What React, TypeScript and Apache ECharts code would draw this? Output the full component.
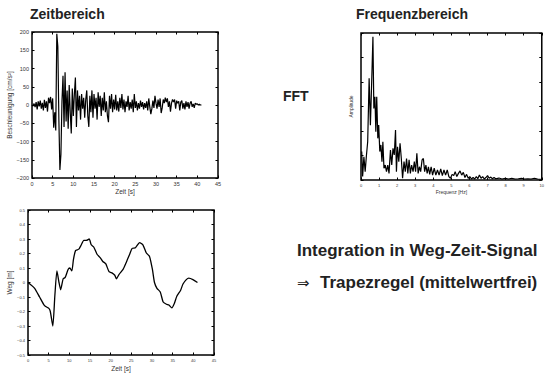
import React, { useEffect, useRef } from "react";
import * as echarts from "echarts";

// --- Zeitbereich: acceleration [cm/s^2], sampled every 0.25 s from 0 to 41 s
const accStep = 0.25;
const accValues = [
  0, -3, 4, -6, 8, -12, 10, -4, 12, -10, 6, -15, 14, -8, 10, -18, 20, 5, 22, -12,
  18, -62, -20, -70, 195, 160, -40, -178, -135, 10, 80, -60, 90, -45, 40, -65, 55, -20, -78, 45,
  -30, 30, 75, -60, 40, -15, 25, -40, 30, -10, 20, -35, 15, 40, -30, -60, 25, -20, 40, -35,
  30, -10, 20, -40, 35, -5, 25, -30, 20, -15, 35, -20, 10, -30, -47, 25, -10, 30, -20, 15,
  -12, 28, -15, 10, -18, 20, -8, 30, -12, 15, -20, 10, -5, 25, -15, 8, -10, 15, -20, 30,
  -8, 10, -15, 5, -10, 12, -5, 8, -12, 5, -8, 10, -15, 18, -5, -25, -10, 12, -8, 25,
  5, -10, 15, -5, 18, -22, -8, 15, 5, 20, 8, 18, -5, 10, -18, 5, 15, 8, 15, -10,
  12, 5, 10, -15, 8, 12, -10, 5, -12, 10, -5, 8, -10, 5, 10, -5, 3, -8, 5, 2,
  3, 0, 2, 0, 0,
];

// --- Frequenzbereich: FFT amplitude (arbitrary units) vs. frequency [Hz]
const fftFreq = [
  0.04, 0.09, 0.16, 0.23, 0.3, 0.37, 0.45, 0.52, 0.57, 0.62, 0.66, 0.71, 0.77, 0.82, 0.87, 0.93, 0.98,
  1.04, 1.1, 1.16, 1.21, 1.27, 1.34, 1.41, 1.48, 1.55, 1.63, 1.7, 1.77, 1.84, 1.91, 1.96,
  2.02, 2.09, 2.16, 2.23, 2.3, 2.38, 2.45, 2.52, 2.59, 2.66, 2.73, 2.8, 2.88, 2.95,
  3.02, 3.09, 3.16, 3.23, 3.3, 3.38, 3.45, 3.52, 3.59, 3.66, 3.73, 3.8, 3.88, 3.96,
  4.05, 4.14, 4.23, 4.32, 4.41, 4.5, 4.59, 4.68, 4.77, 4.86, 4.95,
  5.04, 5.13, 5.21, 5.3, 5.39, 5.48, 5.57, 5.66, 5.75, 5.84, 5.93,
  6.02, 6.11, 6.2, 6.29, 6.38, 6.46, 6.55, 6.64, 6.73, 6.82, 6.91,
  7.0, 7.09, 7.18, 7.27, 7.36, 7.45, 7.63, 7.8, 7.98, 8.16, 8.34, 8.52, 8.7, 8.88,
  9.05, 9.23, 9.41, 9.59, 9.77, 9.95,
];
const fftAmp = [
  1.16, 0.14, 0.95, 0.34, 1.0, 1.56, 4.15, 2.24, 3.47, 4.76, 5.85, 2.92, 3.4, 1.97, 3.4, 1.7, 2.24,
  1.16, 1.43, 0.75, 1.56, 0.48, 0.61, 0.34, 0.61, 0.27, 1.22, 0.61, 1.29, 1.02, 2.04, 0.34,
  1.36, 0.75, 1.5, 0.88, 0.07, 0.75, 0.34, 0.88, 0.27, 0.82, 0.27, 0.61, 0.34, 0.75,
  0.34, 1.09, 0.27, 0.54, 0.34, 0.82, 0.88, 0.34, 0.61, 0.27, 0.54, 0.23, 0.54, 0.2,
  0.48, 0.2, 0.41, 0.2, 0.45, 0.18, 0.41, 0.2, 0.41, 0.14, 0.07,
  0.23, 0.18, 0.34, 0.14, 0.27, 0.37, 0.2, 0.31, 0.1, 0.23, 0.07,
  0.14, 0.04, 0.1, 0.04, 0.14, 0.05, 0.2, 0.07, 0.14, 0.04, 0.1,
  0.18, 0.07, 0.12, 0.05, 0.1, 0.05, 0.08, 0.04, 0.07, 0.04, 0.07, 0.04, 0.05, 0.07,
  0.04, 0.05, 0.04, 0.07, 0.04, 0.03,
];

// --- Weg-Zeit-Signal: displacement [m] vs. time [s]
const wegTime = [
  0, 1.6, 2.8, 4.0, 5.1, 5.4, 6.0, 6.5, 7.0, 7.5, 7.9, 8.5, 9.0, 9.7, 10.1, 10.6, 11.0, 11.5,
  12.3, 12.9, 13.5, 14.1, 14.8, 15.3, 15.9, 16.7, 17.5, 18.1, 18.8, 19.6, 20.4, 21.0, 21.4,
  22.0, 23.0, 23.8, 24.6, 25.2, 26.0, 27.0, 27.8, 28.6, 29.4, 30.1, 30.6, 31.2, 32.0, 32.7,
  33.5, 34.1, 34.8, 35.4, 36.0, 36.9, 37.5, 38.3, 38.9, 39.9, 41.0,
];
const wegValues = [
  0, -0.04, -0.1, -0.16, -0.18, -0.2, -0.3, -0.09, 0.08, 0, -0.05, 0.025, 0.035, 0.09, 0.1, 0.08, 0.16, 0.22,
  0.23, 0.26, 0.29, 0.29, 0.3, 0.26, 0.245, 0.195, 0.17, 0.145, 0.13, 0.075, 0.065, 0.05, 0.025,
  0.055, 0.09, 0.14, 0.195, 0.235, 0.24, 0.275, 0.26, 0.205, 0.18, 0.09, 0, -0.04, -0.065, -0.135,
  -0.15, -0.155, -0.175, -0.145, -0.095, -0.055, -0.01, 0.02, 0.03, 0.02, 0,
];

const FONT = "'Liberation Sans', Arial, Helvetica, sans-serif";
const minus = (s: string) => s.replace("-", "\u2212");

function boxAxes(gridIndex: number, min: number, max: number, interval: number, isX: boolean, label: any, name?: string, nameGap?: number, nameSize?: number) {
  const tick = { show: true, inside: true, length: 2.5, lineStyle: { color: "#000", width: 1 } };
  const main: any = {
    type: "value",
    gridIndex,
    min,
    max,
    interval,
    position: isX ? "bottom" : "left",
    axisLine: { show: false, onZero: false },
    axisTick: tick,
    splitLine: { show: false },
    axisLabel: label,
    name: name || "",
    nameLocation: "middle",
    nameGap: nameGap || 10,
    nameTextStyle: { fontFamily: FONT, fontSize: nameSize || 6, color: "#333" },
  };
  const opp: any = {
    type: "value",
    gridIndex,
    min,
    max,
    interval,
    position: isX ? "top" : "right",
    axisLine: { show: false, onZero: false },
    axisTick: tick,
    splitLine: { show: false },
    axisLabel: { show: false },
  };
  return [main, opp];
}

export default function App() {
  const ref = useRef<HTMLDivElement>(null);
  useEffect(() => {
    if (!ref.current) return;
    const chart = echarts.init(ref.current, undefined, { renderer: "svg" });

    const lbl1 = { show: true, fontFamily: FONT, fontSize: 5.5, color: "#333", margin: 3, formatter: (v: number) => minus(String(v)) };
    const lblFft = { show: true, fontFamily: FONT, fontSize: 4, color: "#333", margin: 3, alignMaxLabel: "center", formatter: (v: number) => String(v) };
    const lbl3x = { show: true, fontFamily: FONT, fontSize: 4, color: "#333", margin: 3, formatter: (v: number) => String(v) };
    const lbl3y = {
      show: true, fontFamily: FONT, fontSize: 4, color: "#333", margin: 3,
      formatter: (v: number) => (Math.abs(v) < 1e-9 ? "0" : minus(v.toFixed(1))),
    };

    const [x1, x1t] = boxAxes(0, 0, 45, 5, true, lbl1, "Zeit [s]", 10, 6.5);
    const [y1, y1r] = boxAxes(0, -200, 200, 50, false, lbl1, "Beschleunigung [cm/s\u00B2]", 17, 6.5);
    const [x2, x2t] = boxAxes(1, 0, 10, 1, true, lblFft, "Frequenz [Hz]", 9, 5);
    const [y2, y2r] = boxAxes(1, 0, 6, 1, false, { show: false }, "Amplitude", 8, 5);
    const [x3, x3t] = boxAxes(2, 0, 45, 5, true, lbl3x, "Zeit [s]", 10, 6.5);
    const [y3, y3r] = boxAxes(2, -0.5, 0.5, 0.1, false, lbl3y, "Weg [m]", 14, 6.5);

    const gridStyle = { show: true, borderColor: "#000", borderWidth: 1.5, backgroundColor: "transparent" };

    const textEl = (text: string, x: number, y: number, size: number, weight: string = "bold", family: string = FONT) => ({
      type: "text",
      x,
      y,
      style: { text, fill: "#222", font: `${weight} ${size}px ${family}`, verticalAlign: "middle", align: "left" },
    });

    chart.setOption({
      animation: false,
      backgroundColor: "#fff",
      grid: [
        { left: 32, top: 32, width: 186, height: 146, ...gridStyle },
        { left: 361, top: 33, width: 187, height: 147, ...gridStyle },
        { left: 28, top: 210, width: 186, height: 147, ...gridStyle },
      ],
      xAxis: [x1, x1t, x2, x2t, x3, x3t],
      yAxis: [y1, y1r, y2, y2r, y3, y3r],
      series: [
        {
          type: "line",
          xAxisIndex: 0,
          yAxisIndex: 0,
          showSymbol: false,
          lineStyle: { color: "#000", width: 1.2 },
          data: accValues.map((v, i) => [i * accStep, v]),
        },
        {
          type: "line",
          xAxisIndex: 2,
          yAxisIndex: 2,
          showSymbol: false,
          lineStyle: { color: "#000", width: 1.2 },
          data: fftFreq.map((f, i) => [f, fftAmp[i]]),
        },
        {
          type: "line",
          xAxisIndex: 4,
          yAxisIndex: 4,
          showSymbol: false,
          smooth: 0.2,
          lineStyle: { color: "#000", width: 1.3 },
          data: wegTime.map((t, i) => [t, wegValues[i]]),
        },
      ],
      graphic: [
        textEl("Zeitbereich", 30, 14, 14),
        textEl("Frequenzbereich", 356, 14, 14),
        textEl("FFT", 283, 96, 14),
        textEl("Integration in Weg-Zeit-Signal", 297, 250, 17),
        textEl("\u21D2", 297, 283, 15, "normal", "'DejaVu Sans', sans-serif"),
        textEl("Trapezregel (mittelwertfrei)", 320, 282, 17),
      ],
    });
    return () => chart.dispose();
  }, []);
  return <div ref={ref} style={{ position: "fixed", left: 0, top: 0, width: 547, height: 373 }} />;
}
